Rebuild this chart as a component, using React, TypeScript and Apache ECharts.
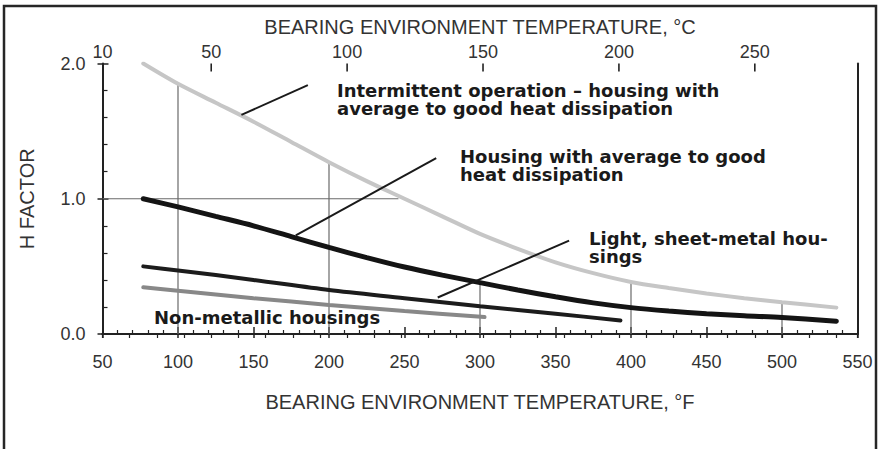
import React, { useEffect, useRef } from "react";
import * as echarts from "echarts";

// Curves: [°F, H factor]
const intermittent: [number, number][] = [
  [77, 2.0], [100, 1.85], [125, 1.71], [150, 1.57], [175, 1.42], [200, 1.27],
  [225, 1.13], [250, 1.0], [275, 0.87], [300, 0.74], [325, 0.63], [350, 0.53],
  [375, 0.45], [400, 0.385], [425, 0.34], [450, 0.3], [475, 0.265], [500, 0.235], [536, 0.195],
];
const housingAvg: [number, number][] = [
  [77, 1.0], [100, 0.94], [125, 0.87], [150, 0.8], [175, 0.72], [200, 0.64],
  [225, 0.565], [250, 0.495], [275, 0.435], [300, 0.38], [325, 0.325], [350, 0.275],
  [375, 0.23], [400, 0.195], [425, 0.17], [450, 0.15], [475, 0.135], [500, 0.122], [536, 0.095],
];
const lightSheet: [number, number][] = [
  [77, 0.5], [100, 0.47], [150, 0.4], [200, 0.325], [250, 0.265], [300, 0.205], [350, 0.15], [393, 0.1],
];
const nonMetallic: [number, number][] = [
  [77, 0.345], [100, 0.32], [150, 0.265], [200, 0.215], [250, 0.17], [303, 0.125],
];

// Reading (drop) lines
const dropLines: [number, number][][] = [
  [[100, 0], [100, 1.85]],
  [[200, 0], [200, 1.27]],
  [[300, 0], [300, 0.38]],
  [[400, 0], [400, 0.385]],
  [[500, 0], [500, 0.235]],
  [[50, 1.0], [246, 1.0]],
];

// Leader lines from labels to curves
const leaderLines: [number, number][][] = [
  [[142, 1.62], [186, 1.84]],
  [[178, 0.73], [271, 1.3]],
  [[272, 0.27], [359, 0.69]],
];

const fMin = 50;
const fMax = 550;
const cMin = (fMin - 32) / 1.8;
const cMax = (fMax - 32) / 1.8;
const cLabels = [10, 50, 100, 150, 200, 250];
const cMajorTicks = [50, 100, 150, 200, 250];

const labelLines = {
  intermittent: ["Intermittent operation – housing with", "average to good heat dissipation"],
  housing: ["Housing with average to good", "heat dissipation"],
  light: ["Light, sheet-metal hou-", "sings"],
  nonMetal: ["Non-metallic housings"],
};

const axisFont = "'Liberation Sans', Arial, Helvetica, sans-serif";
const labelFont = "'DejaVu Sans', sans-serif";

export default function App() {
  const ref = useRef<HTMLDivElement>(null);
  useEffect(() => {
    if (!ref.current) return;
    const chart = echarts.init(ref.current, undefined, { renderer: "svg" });

    const lineSeries = (data: [number, number][], color: string, width: number, z: number) => ({
      type: "line",
      data,
      xAxisIndex: 0,
      yAxisIndex: 0,
      showSymbol: false,
      symbol: "none",
      smooth: 0.3,
      silent: true,
      z,
      lineStyle: { color, width, cap: "round" },
    });

    const series: any[] = [];
    dropLines.forEach((d) =>
      series.push({
        type: "line", data: d, xAxisIndex: 0, yAxisIndex: 0, symbol: "none", silent: true, z: 1,
        lineStyle: { color: "#6a6a6a", width: 1.2 },
      })
    );
    series.push(lineSeries(intermittent, "#c6c6c6", 4, 3));
    series.push(lineSeries(nonMetallic, "#888888", 4, 3));
    series.push(lineSeries(lightSheet, "#1c1c1c", 4, 4));
    series.push(lineSeries(housingAvg, "#141414", 5, 4));
    leaderLines.forEach((d) =>
      series.push({
        type: "line", data: d, xAxisIndex: 0, yAxisIndex: 0, symbol: "none", silent: true, z: 5,
        lineStyle: { color: "#1a1a1a", width: 2 },
      })
    );
    // major ticks of the top (°C) axis
    series.push({
      type: "custom",
      xAxisIndex: 1,
      yAxisIndex: 0,
      silent: true,
      clip: false,
      z: 6,
      data: cMajorTicks.map((c) => [c, 2]),
      renderItem: (params: any, api: any) => {
        const p = api.coord([api.value(0), api.value(1)]);
        return {
          type: "line",
          shape: { x1: p[0], y1: p[1], x2: p[0], y2: p[1] + 8 },
          style: { stroke: "#222", lineWidth: 1.6 },
        };
      },
    });

    const lineH = 18.6;
    const block = (lines: string[], x: number, y: number) =>
      lines.map((t, i) => ({
        type: "text",
        x,
        y: y + i * lineH,
        z: 10,
        style: {
          text: t,
          fill: "#1a1a1a",
          font: `bold 18px ${labelFont}`,
          lineHeight: lineH,
          verticalAlign: "top",
          align: "left",
        },
      }));

    chart.setOption({
      animation: false,
      backgroundColor: "#ffffff",
      grid: { left: 102.5, right: 22.5, top: 63.5, bottom: 115, containLabel: false },
      xAxis: [
        {
          type: "value", position: "bottom", min: fMin, max: fMax, interval: 50,
          axisLine: { show: true, lineStyle: { color: "#222", width: 2 } },
          axisTick: { show: true, inside: true, length: 7, lineStyle: { color: "#222", width: 1.5 } },
          minorTick: { show: true, splitNumber: 5, length: 4, lineStyle: { color: "#222", width: 1.2 } },
          splitLine: { show: false },
          axisLabel: { show: true, fontSize: 18, color: "#333", margin: 19, fontFamily: axisFont },
          name: "BEARING ENVIRONMENT TEMPERATURE, °F",
          nameLocation: "middle", nameGap: 58,
          nameTextStyle: { fontSize: 20, color: "#333", fontFamily: axisFont },
        },
        {
          type: "value", position: "top", min: cMin, max: cMax, interval: 10,
          axisLine: { show: true, lineStyle: { color: "#222", width: 2 } },
          axisTick: { show: true, inside: true, length: 4, lineStyle: { color: "#222", width: 1.2 } },
          splitLine: { show: false },
          axisLabel: { show: true, fontSize: 18, color: "#333", margin: 3, fontFamily: axisFont, customValues: cLabels },
          name: "BEARING ENVIRONMENT TEMPERATURE, °C",
          nameLocation: "middle", nameGap: 27,
          nameTextStyle: { fontSize: 20, color: "#333", fontFamily: axisFont },
        },
        {
          type: "value", position: "bottom", min: fMin, max: fMax, interval: 50,
          axisLine: { show: false },
          axisTick: { show: true, inside: false, length: 4, lineStyle: { color: "#222", width: 1.5 } },
          splitLine: { show: false },
          axisLabel: { show: false },
        },
      ],
      yAxis: [
        {
          type: "value", position: "left", min: 0, max: 2, interval: 1,
          axisLine: { show: true, lineStyle: { color: "#222", width: 2 } },
          axisTick: { show: true, inside: true, length: 6, lineStyle: { color: "#222", width: 1.5 } },
          minorTick: { show: true, splitNumber: 5, length: 5, lineStyle: { color: "#222", width: 1.2 } },
          splitLine: { show: false },
          axisLabel: { show: true, fontSize: 18, color: "#333", margin: 17, fontFamily: axisFont, formatter: (v: number) => v.toFixed(1) },
          name: "H FACTOR",
          nameLocation: "middle", nameGap: 66, nameRotate: 90,
          nameTextStyle: { fontSize: 20, color: "#333", fontFamily: axisFont },
        },
        {
          type: "value", position: "right", min: 0, max: 2,
          axisLine: { show: true, lineStyle: { color: "#222", width: 2 } },
          axisTick: { show: false },
          splitLine: { show: false },
          axisLabel: { show: false },
        },
        {
          type: "value", position: "left", min: 0, max: 2, interval: 1,
          axisLine: { show: false },
          axisTick: { show: true, inside: false, length: 5, lineStyle: { color: "#222", width: 1.5 } },
          splitLine: { show: false },
          axisLabel: { show: false },
        },
      ],
      series,
      graphic: [
        {
          type: "rect", shape: { x: 4, y: 6, width: 872, height: 470 }, silent: true, z: 0,
          style: { fill: "none", stroke: "#262626", lineWidth: 2.5 },
        },
        ...block(labelLines.intermittent, 337, 81),
        ...block(labelLines.housing, 460, 147),
        ...block(labelLines.light, 589, 229),
        ...block(labelLines.nonMetal, 154, 308),
      ],
    });
    return () => chart.dispose();
  }, []);
  return (
    <div
      ref={ref}
      style={{ position: "absolute", left: 0, top: 0, width: "880px", height: "449px", background: "#fff" }}
    />
  );
}
